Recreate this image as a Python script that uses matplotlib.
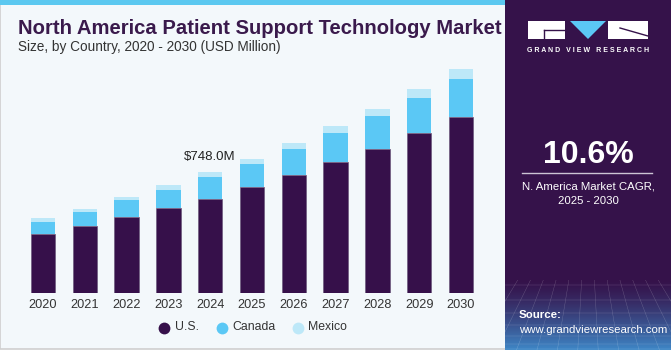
import numpy as np
import matplotlib
matplotlib.use("Agg")
import matplotlib.pyplot as plt
from matplotlib.patches import Rectangle, Polygon

years = ['2020', '2021', '2022', '2023', '2024', '2025', '2026', '2027', '2028', '2029', '2030']
us = [368, 416, 473, 529, 585, 659, 733, 814, 894, 993, 1090]
canada = [74, 85, 103, 109, 136, 142, 157, 176, 202, 213, 237]
mexico = [23, 20, 22, 31, 27, 29, 37, 43, 43, 57, 58]

W, H = 671, 350
purple = '#36104A'
cyan = '#5BC8F5'
pale = '#BDE8F8'
panel = '#35124A'

plt.rcParams['font.family'] = ['Liberation Sans', 'DejaVu Sans']

fig = plt.figure(figsize=(W / 100, H / 100), dpi=100)
fig.patch.set_facecolor('white')


def fx(x):
    return x / W


def fy(y):
    return 1 - y / H


# backgrounds
fig.patches.append(Rectangle((fx(0), fy(349)), fx(506), 349 / H, transform=fig.transFigure,
                             facecolor='#F3F8FB', edgecolor='#CFCFCF', lw=1.2, zorder=-3))
fig.patches.append(Rectangle((fx(0), fy(5)), fx(506), 5 / H, transform=fig.transFigure,
                             facecolor='#5BC8F0', edgecolor='none', zorder=-2))
fig.patches.append(Rectangle((fx(505), 0), fx(166), 1, transform=fig.transFigure,
                             facecolor=panel, edgecolor='none', zorder=-2))

# gradient at bottom of panel
gax = fig.add_axes([fx(505), 0, fx(166), (350 - 280) / H])
t = np.linspace(0, 1, 100) ** 1.3
c0 = np.array(matplotlib.colors.to_rgb(panel))
c1 = np.array(matplotlib.colors.to_rgb('#3E86C6'))
cols = (c0[None, :] * (1 - t[:, None]) + c1[None, :] * t[:, None])[:, None, :]
gax.imshow(cols, aspect='auto', extent=[0, 1, 0, 1], origin='upper')
for k in np.linspace(0, 1, 14):
    gax.plot([k, 0.5 + (k - 0.5) * 1.6], [1, 0], color='white', lw=0.3, alpha=0.25)
for k in np.linspace(0.05, 0.95, 7):
    gax.axhline(k ** 1.5, color='white', lw=0.3, alpha=0.25)
gax.set_xlim(0, 1)
gax.set_ylim(0, 1)
gax.axis('off')

# chart axes
unit = 41.8
x0 = 43 - 0.7 * unit
x1 = 461 + 0.7 * unit
ybase = 293.3
ytop = 60
scale = 748 / (ybase - 172.3)
ax = fig.add_axes([fx(x0), fy(ybase), fx(x1 - x0), (ybase - ytop) / H])
ax.set_facecolor('none')
x = np.arange(len(years))
us_a = np.array(us)
ca_a = np.array(canada)
mx_a = np.array(mexico)
bw = 0.58
ax.bar(x, us_a, bw, color=purple, edgecolor='#6d5a7e', lw=0.5, label='U.S.')
ax.bar(x, ca_a, bw, bottom=us_a, color=cyan, edgecolor='none', label='Canada')
ax.bar(x, mx_a, bw, bottom=us_a + ca_a, color=pale, edgecolor='none', label='Mexico')
ax.set_xlim(-0.7, 10.7)
ax.set_ylim(0, (ybase - ytop) * scale)
ax.set_xticks(x)
ax.set_xticklabels(years, fontsize=9.2, color='#333333')
ax.tick_params(axis='x', length=0, pad=4)
ax.set_yticks([])
for s in ax.spines.values():
    s.set_visible(False)

tot24 = us_a[4] + ca_a[4] + mx_a[4]
ax.text(4, tot24 + 15 * scale, '$748.0M', ha='center', va='center', fontsize=9.5, color='#222222')

# titles
fig.text(fx(18), fy(28), 'North America Patient Support Technology Market', fontsize=14.6,
         fontweight='bold', color='#3A1A4C', va='center', ha='left')
fig.text(fx(18), fy(47), 'Size, by Country, 2020 - 2030 (USD Million)', fontsize=9.8,
         color='#333333', va='center', ha='left')

# legend
for cx, tx, col, lab in [(164, 175, purple, 'U.S.'), (222, 232, cyan, 'Canada'), (298, 308, pale, 'Mexico')]:
    fig.lines.append(plt.Line2D([fx(cx)], [fy(328)], transform=fig.transFigure, marker='o',
                                markersize=8.5, color=col, markeredgewidth=0, linestyle='none'))
    fig.text(fx(tx), fy(327), lab, fontsize=8.8, color='#333333', va='center', ha='left')

# right panel content
fig.patches.append(Rectangle((fx(528), fy(39)), fx(37), 18 / H, transform=fig.transFigure,
                             facecolor='white', edgecolor='none'))
fig.patches.append(Rectangle((fx(608), fy(39)), fx(40), 18 / H, transform=fig.transFigure,
                             facecolor='white', edgecolor='none'))
fig.patches.append(Polygon([(fx(570), fy(21)), (fx(606), fy(21)), (fx(588), fy(39))],
                           transform=fig.transFigure, facecolor='#5BC8F5', edgecolor='none'))
fig.lines.append(plt.Line2D([fx(544), fx(565)], [fy(30), fy(30)], transform=fig.transFigure,
                            color=panel, lw=1))
fig.lines.append(plt.Line2D([fx(544), fx(544)], [fy(30), fy(39)], transform=fig.transFigure,
                            color=panel, lw=1))
fig.lines.append(plt.Line2D([fx(620), fx(648)], [fy(28), fy(36)], transform=fig.transFigure,
                            color=panel, lw=1))
fig.text(fx(588), fy(51), 'G R A N D   V I E W   R E S E A R C H', fontsize=5.0, fontweight='bold',
         color='white', ha='center', va='center')

fig.text(fx(588), fy(155), '10.6%', fontsize=23, fontweight='bold', color='white',
         ha='center', va='center')
fig.lines.append(plt.Line2D([fx(522), fx(652)], [fy(173), fy(173)], transform=fig.transFigure,
                            color='#CCC4D4', lw=1))
fig.text(fx(588), fy(186), 'N. America Market CAGR,', fontsize=8.2, color='white', ha='center', va='center')
fig.text(fx(588), fy(201), '2025 - 2030', fontsize=8.2, color='white', ha='center', va='center')

fig.text(fx(519), fy(315), 'Source:', fontsize=8.2, fontweight='bold', color='white', ha='left', va='center')
fig.text(fx(519), fy(330), 'www.grandviewresearch.com', fontsize=8.2, color='white', ha='left', va='center')

fig.savefig('out.png', dpi=100, facecolor=fig.get_facecolor())
